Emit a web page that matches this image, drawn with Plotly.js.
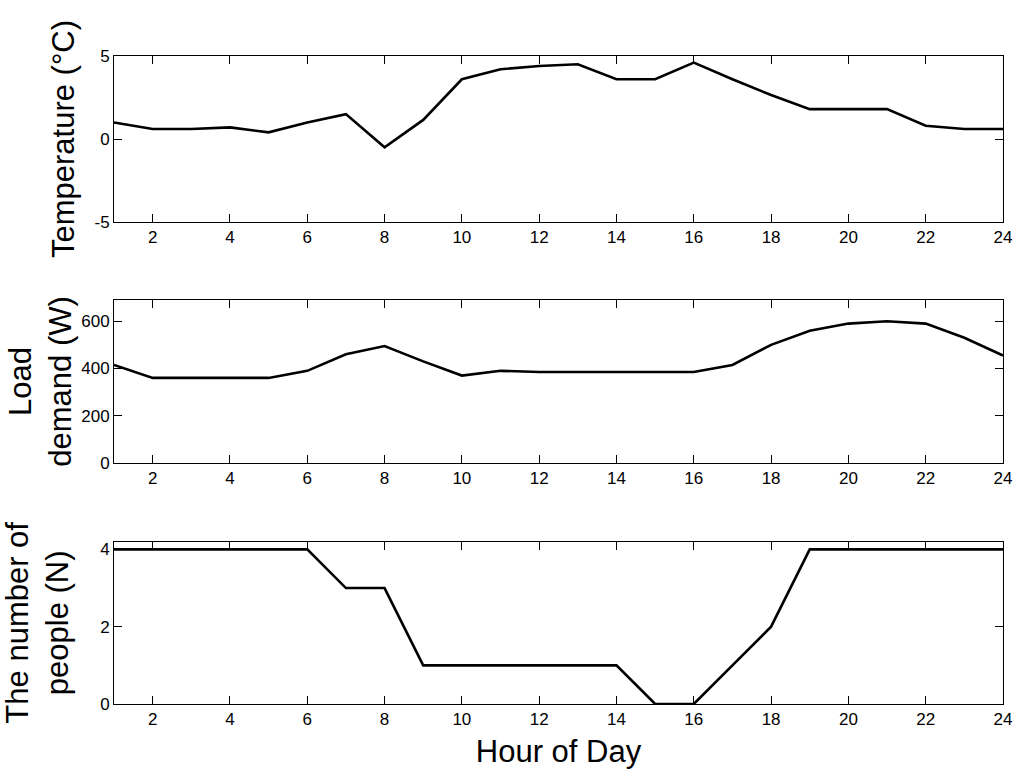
<!DOCTYPE html>
<html>
<head>
<meta charset="utf-8">
<script src="https://cdn.plot.ly/plotly-3.0.1.min.js"></script>
<style>
  body { margin: 0; background: #fff; }
  #chart { width: 1024px; height: 777px; }
</style>
</head>
<body>
<div id="chart"></div>
<script>
// Hourly values
var hours = [1, 2, 3, 4, 5, 6, 7, 8, 9, 10, 11, 12, 13, 14, 15, 16, 17, 18, 19, 20, 21, 22, 23, 24];
var temperature = [1.0, 0.6, 0.6, 0.7, 0.4, 1.0, 1.5, -0.5, 1.15, 3.6, 4.2, 4.4, 4.5, 3.6, 3.6, 4.6, 3.6, 2.65, 1.8, 1.8, 1.8, 0.8, 0.6, 0.6];
var loadDemand = [415, 360, 360, 360, 360, 390, 460, 495, 430, 370, 390, 385, 385, 385, 385, 385, 415, 500, 560, 590, 600, 590, 530, 455];
var people = [4, 4, 4, 4, 4, 4, 3, 3, 1, 1, 1, 1, 1, 1, 0, 0, 1, 2, 4, 4, 4, 4, 4, 4];

var xTicks = [2, 4, 6, 8, 10, 12, 14, 16, 18, 20, 22, 24];
var tempTicks = [-5, 0, 5];
var tempTickText = ["-5", "0", "5"];
var loadTicks = [0, 200, 400, 600];
var peopleTicks = [0, 2, 4];

var fontFamily = "Liberation Sans, Arial, sans-serif";
var lineStyle = {color: "#000", width: 2.6};

// Common axis look: black box, inward ticks on all sides, no grid
function axisBase() {
  return {
    showline: true,
    linecolor: "#000",
    linewidth: 1,
    mirror: "ticks",
    ticks: "inside",
    ticklen: 8,
    tickcolor: "#000",
    showgrid: false,
    zeroline: false,
    tickfont: {family: fontFamily, size: 17, color: "#000"}
  };
}

function xAxis(anchor) {
  var ax = axisBase();
  ax.range = [1, 24];
  ax.tickvals = xTicks;
  ax.anchor = anchor;
  return ax;
}

function yAxis(anchor, domain, range, ticks, title, standoff) {
  var ax = axisBase();
  ax.range = range;
  ax.tickvals = ticks;
  ax.anchor = anchor;
  ax.domain = domain;
  ax.title = {text: title, font: {family: fontFamily, size: 31, color: "#000"}, standoff: standoff};
  return ax;
}

var traces = [
  {x: hours, y: temperature, type: "scatter", mode: "lines", line: lineStyle, xaxis: "x", yaxis: "y"},
  {x: hours, y: loadDemand, type: "scatter", mode: "lines", line: lineStyle, xaxis: "x2", yaxis: "y2"},
  {x: hours, y: people, type: "scatter", mode: "lines", line: lineStyle, xaxis: "x3", yaxis: "y3"}
];

var yaxis1 = yAxis("x", [0.7438, 1], [-5, 5], tempTicks, "Temperature (°C)", 10);
yaxis1.ticktext = tempTickText;

var xaxis3 = xAxis("y3");
xaxis3.title = {text: "Hour of Day", font: {family: fontFamily, size: 31, color: "#000"}, standoff: 11};

var layout = {
  width: 1024,
  height: 777,
  margin: {l: 114, r: 21, t: 56, b: 73},
  paper_bgcolor: "#fff",
  plot_bgcolor: "#fff",
  showlegend: false,
  xaxis: xAxis("y"),
  yaxis: yaxis1,
  xaxis2: xAxis("y2"),
  yaxis2: yAxis("x2", [0.372, 0.6235], [0, 690], loadTicks, "Load<br>demand (W)", 0),
  xaxis3: xaxis3,
  yaxis3: yAxis("x3", [0, 0.2505], [0, 4.2], peopleTicks, "The number of<br>people (N)", 22)
};

Plotly.newPlot("chart", traces, layout, {staticPlot: true});
</script>
</body>
</html>
